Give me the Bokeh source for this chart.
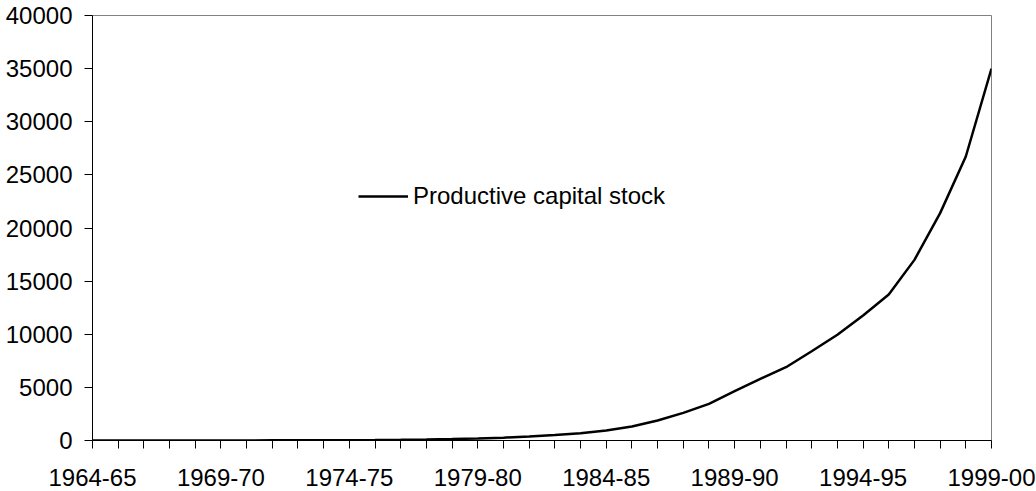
from bokeh.plotting import figure
from bokeh.models import Range1d, FixedTicker, Legend, LegendItem
from bokeh.embed import file_html
from bokeh.resources import INLINE

years = ["1964-65", "1965-66", "1966-67", "1967-68", "1968-69", "1969-70",
         "1970-71", "1971-72", "1972-73", "1973-74", "1974-75", "1975-76",
         "1976-77", "1977-78", "1978-79", "1979-80", "1980-81", "1981-82",
         "1982-83", "1983-84", "1984-85", "1985-86", "1986-87", "1987-88",
         "1988-89", "1989-90", "1990-91", "1991-92", "1992-93", "1993-94",
         "1994-95", "1995-96", "1996-97", "1997-98", "1998-99", "1999-00"]
capital_stock = [2, 2, 3, 4, 5, 7, 9, 12, 16, 22, 30, 43, 60, 85, 130, 190,
                 270, 370, 510, 690, 940, 1320, 1880, 2600, 3450, 4640,
                 5800, 6900, 8400, 9950, 11760, 13740, 17000, 21400, 26730, 35000]
series_name = "Productive capital stock"
y_ticks = [0, 5000, 10000, 15000, 20000, 25000, 30000, 35000, 40000]
label_every = 5

FONT = "Liberation Sans"
xs = list(range(len(years)))

p = figure(width=1036, height=491, output_backend="svg", toolbar_location=None,
           x_range=Range1d(0, len(years) - 1), y_range=Range1d(y_ticks[0], y_ticks[-1]),
           min_border_left=92, min_border_right=45, min_border_top=15, min_border_bottom=51)
p.background_fill_color = "white"
p.border_fill_color = "white"
p.outline_line_color = "#808080"
p.outline_line_width = 1
p.xgrid.visible = False
p.ygrid.visible = False

r = p.line(xs, capital_stock, line_color="black", line_width=2.5)

p.xaxis.ticker = FixedTicker(ticks=xs)
p.xaxis.major_label_overrides = {i: (years[i] if i % label_every == 0 else "") for i in xs}
p.yaxis.ticker = FixedTicker(ticks=y_ticks)

for ax in (p.xaxis[0], p.yaxis[0]):
    ax.axis_line_color = "black"
    ax.axis_line_width = 1
    ax.major_tick_line_color = "black"
    ax.major_tick_in = 0
    ax.major_tick_out = 8
    ax.minor_tick_line_color = None
    ax.major_label_text_font = FONT
    ax.major_label_text_font_size = "24px"
    ax.major_label_text_color = "black"
p.xaxis.major_label_standoff = 20
p.yaxis.major_label_standoff = 12

legend = Legend(items=[LegendItem(label=series_name, renderers=[r])],
                location=(266, 230), border_line_alpha=0, background_fill_alpha=0,
                padding=0, margin=0, glyph_width=50, glyph_height=24, label_standoff=5,
                label_text_font=FONT, label_text_font_size="24px", label_text_color="black")
p.add_layout(legend)

open("out.html", "w").write(file_html(p, INLINE))
